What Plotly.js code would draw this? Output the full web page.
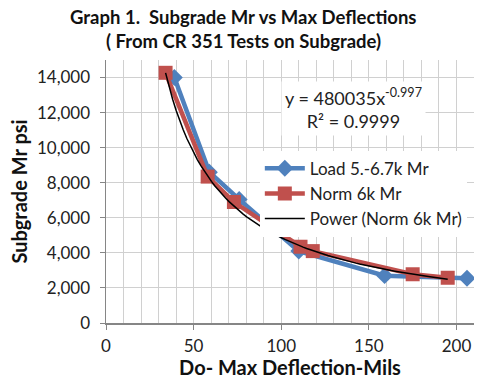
<!DOCTYPE html>
<html>
<head>
<meta charset="utf-8">
<script src="https://cdn.plot.ly/plotly-3.0.1.min.js"></script>
<style>html,body{margin:0;padding:0;background:#fff;}#chart{width:477px;height:379px;}</style>
</head>
<body>
<div id="chart"></div>
<script>
// Series: Load 5.-6.7k Mr
const loadX = [39, 59, 76, 110, 159, 206];
const loadY = [14000, 8600, 7050, 4100, 2700, 2550];
// Series: Norm 6k Mr
const normX = [34, 58, 73, 111, 118, 175, 195];
const normY = [14270, 8350, 6900, 4350, 4100, 2780, 2580];
// Power trendline coefficients as displayed (y = a x^b)
const trendA = 480035;
const trendB = -0.997;
const trendR2 = 0.9999;
// Axis ticks
const yTicks = [0, 2000, 4000, 6000, 8000, 10000, 12000, 14000];
const xTicks = [0, 50, 100, 150, 200];

const xmin = Math.min(...normX), xmax = Math.max(...normX);
const trendX = [], trendY = [];
for (let i = 0; i <= 80; i++) {
  const x = xmin + (xmax - xmin) * i / 80;
  trendX.push(x);
  trendY.push(trendA * Math.pow(x, trendB));
}

const font = "Lato, 'Open Sans', sans-serif";
const traces = [
  {x: loadX, y: loadY, type: 'scatter', mode: 'lines+markers', name: 'Load 5.-6.7k Mr',
   line: {color: '#4F81BD', width: 4.5}, marker: {symbol: 'diamond', size: 13, color: '#4F81BD'}},
  {x: normX, y: normY, type: 'scatter', mode: 'lines+markers', name: 'Norm 6k Mr',
   line: {color: '#C0504D', width: 4.5}, marker: {symbol: 'square', size: 14, color: '#C0504D'}},
  {x: trendX, y: trendY, type: 'scatter', mode: 'lines', name: 'Power (Norm 6k Mr)',
   line: {color: '#000000', width: 1.5}}
];

const layout = {
  width: 477, height: 379,
  margin: {l: 106, r: 3, t: 60, b: 56},
  paper_bgcolor: '#fff', plot_bgcolor: '#fff',
  font: {family: font, color: '#222', size: 15},
  xaxis: {range: [0, 210], tickvals: xTicks, showgrid: true, gridcolor: '#d0d0d0', gridwidth: 1,
          minor: {dtick: 10, showgrid: true, gridcolor: '#d0d0d0', gridwidth: 1},
          showline: true, linecolor: '#868686', linewidth: 1.5, ticks: 'outside', ticklen: 5, tickcolor: '#868686',
          zeroline: false, tickfont: {size: 17, color: '#222'}, ticklabelstandoff: 2,
          title: {text: '<b>Do- Max Deflection-Mils</b>', font: {size: 20, color: '#111'}, standoff: 0}},
  yaxis: {range: [0, 15000], tickvals: yTicks, tickformat: ',', showgrid: true, gridcolor: '#d0d0d0', gridwidth: 1,
          showline: true, linecolor: '#868686', linewidth: 1.5, ticks: 'outside', ticklen: 5, tickcolor: '#868686',
          zeroline: false, tickfont: {size: 17, color: '#222'}, ticklabelstandoff: 6,
          title: {text: '<b>Subgrade Mr psi</b>', font: {size: 20, color: '#111'}, standoff: 4}},
  legend: {x: 0.418, y: 0.655, xanchor: 'left', yanchor: 'top', bgcolor: '#fff', borderwidth: 0,
           font: {size: 17, color: '#222'}, itemwidth: 40, tracegroupgap: 0},
  showlegend: true,
  annotations: [
    {xref: 'paper', yref: 'paper', x: 0.374, y: 1.163, xanchor: 'center', yanchor: 'middle', showarrow: false,
     text: '<b>Graph 1.  Subgrade Mr vs Max Deflections</b>', font: {size: 18.5, color: '#111'}},
    {xref: 'paper', yref: 'paper', x: 0.374, y: 1.072, xanchor: 'center', yanchor: 'middle', showarrow: false,
     text: '<b>( From CR 351 Tests on Subgrade)</b>', font: {size: 18.5, color: '#111'}},
    {xref: 'paper', yref: 'paper', x: 0.672, y: 0.814, xanchor: 'center', yanchor: 'middle',
     text: 'y = ' + trendA + 'x<sup>' + trendB + '</sup><br>R² = ' + trendR2,
     showarrow: false, bgcolor: '#fff', font: {size: 18, color: '#222'}, align: 'center', borderpad: 3}
  ]
};

Plotly.newPlot('chart', traces, layout, {displayModeBar: false, staticPlot: true});
</script>
</body>
</html>
